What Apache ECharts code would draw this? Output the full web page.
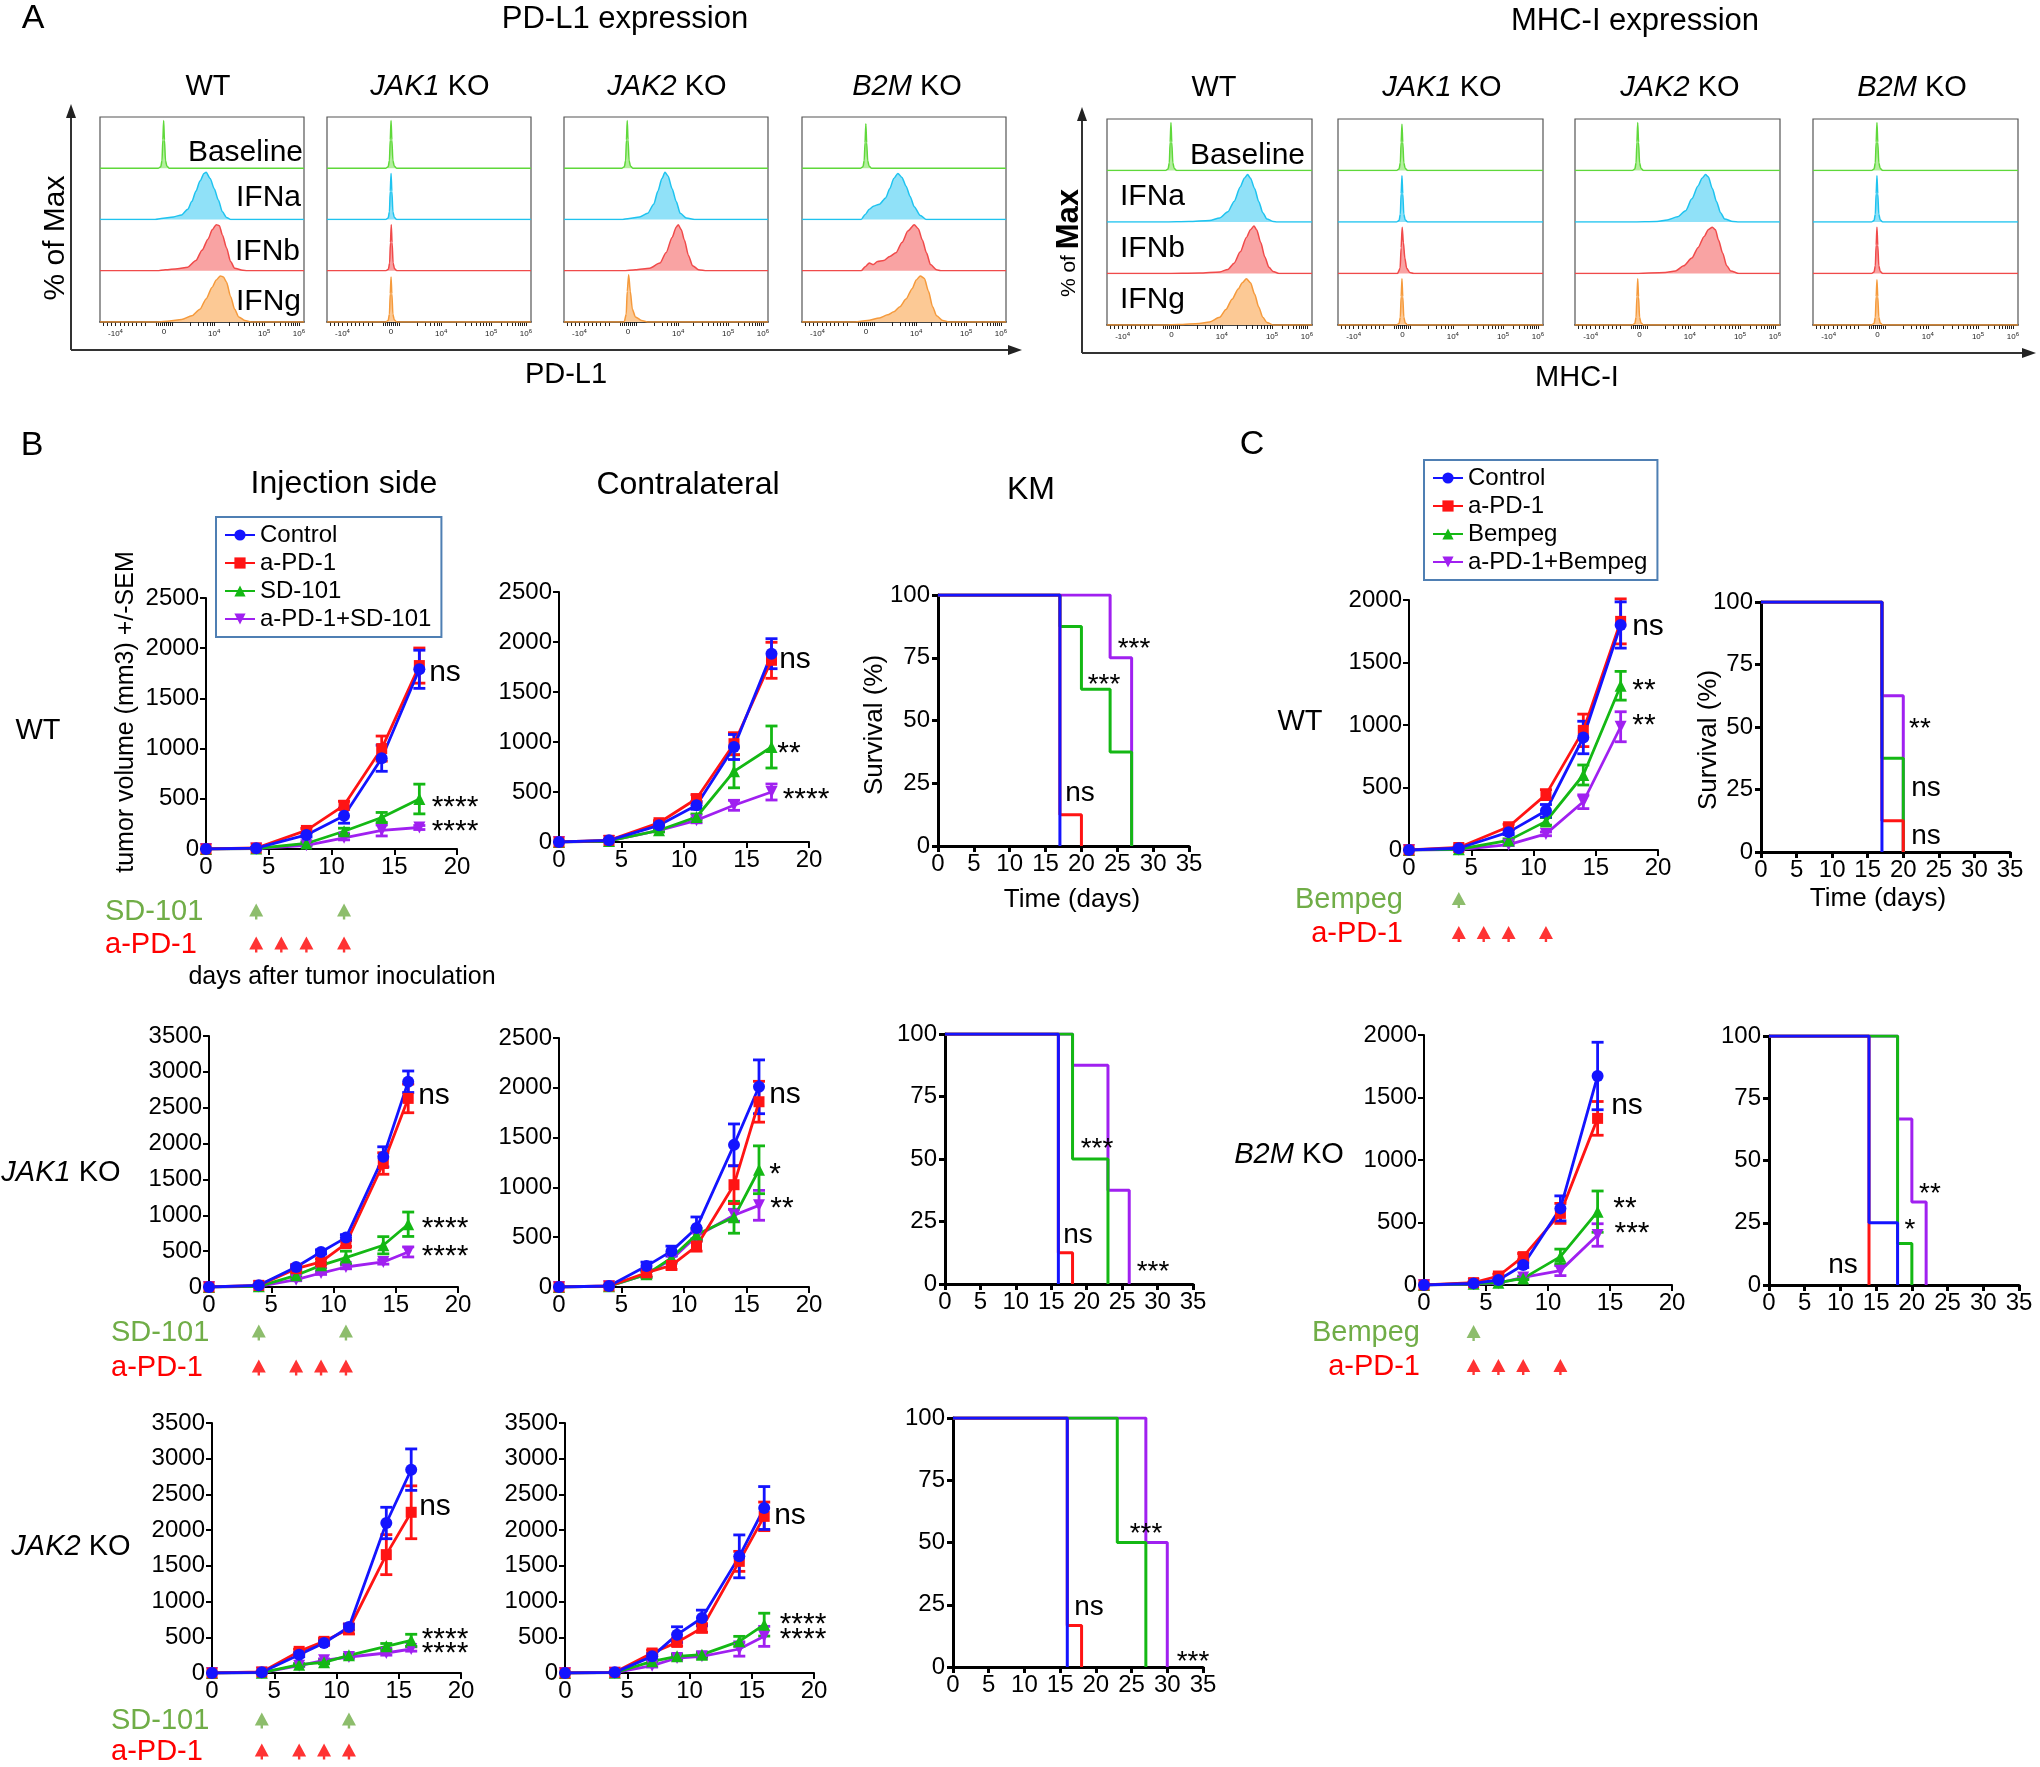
<!DOCTYPE html>
<html><head><meta charset="utf-8">
<script src="https://cdn.jsdelivr.net/npm/echarts@6/dist/echarts.min.js"></script>
<style>html,body{margin:0;padding:0;background:#fff}#c{width:2040px;height:1767px}</style>
</head><body><div id="c"></div>
<script>
// ======================= DATA =======================
// Panel A: flow histograms, x in display units (0..100 across the box), y = fraction of row height
const HIST_ROWS = ['Baseline', 'IFNa', 'IFNb', 'IFNg'];
const GENOTYPES = ['WT', 'JAK1 KO', 'JAK2 KO', 'B2M KO'];
const HIST_TICK_POS = [7.6, 31.4, 56, 80.5, 97.5];
const HIST_TICK_TXT = ['-10{s|4}', '0', '10{s|4}', '10{s|5}', '10{s|6}'];
const HIST_MINOR_TICKS = [1.5,3.5,5.5,7.6,10,12,14,16,18,20,22,27.5,28.5,29.5,30.5,31.4,32.3,33.3,34.3,35.3,44,48,50.5,52.5,54,55,56,63.4,67.7,70.8,73.1,75,76.7,78.1,79.4,80.5,85.6,88.6,90.7,92.4,93.7,94.9,95.9,96.7,97.5];

const PDL1_WT_BASE = [[28.5,0],[29.8,0.03],[30.4,0.15],[30.8,0.55],[31.2,0.93],[31.6,0.55],[32.1,0.15],[32.8,0.04],[34,0]];
const PDL1_WT_IFNA = [[27,0],[30,0.02],[36,0.05],[40,0.09],[43,0.2],[45,0.35],[47,0.55],[49,0.75],[51,0.9],[52,0.92],[54,0.8],[56,0.6],[58,0.38],[60,0.15],[62,0.04],[64,0]];
const PDL1_WT_IFNB = [[28,0],[32,0.02],[38,0.04],[43,0.07],[47,0.2],[50,0.4],[53,0.62],[55,0.8],[57,0.9],[58.5,0.88],[60,0.7],[62,0.45],[64,0.18],[66,0.05],[70,0.01],[72,0]];
const PDL1_WT_IFNG = [[28,0],[34,0.02],[40,0.05],[45,0.12],[49,0.25],[52,0.45],[55,0.68],[57,0.82],[59,0.9],[60.5,0.88],[62,0.78],[64,0.5],[66,0.25],[68,0.1],[71,0.03],[74,0]];
const PDL1_JAK1_BASE = [[28.7,0],[30,0.03],[30.6,0.15],[31,0.55],[31.4,0.93],[31.8,0.55],[32.3,0.15],[33,0.04],[34.2,0]];
const PDL1_JAK1_IFNA = [[28.7,0],[30,0.03],[30.6,0.15],[31,0.55],[31.4,0.9],[31.8,0.55],[32.3,0.15],[33,0.04],[34.2,0]];
const PDL1_JAK1_IFNB = [[28.8,0],[30.1,0.03],[30.7,0.15],[31.1,0.55],[31.5,0.9],[31.9,0.55],[32.4,0.15],[33.1,0.04],[34.3,0]];
const PDL1_JAK1_IFNG = [[28.7,0],[30,0.03],[30.6,0.15],[31,0.55],[31.4,0.88],[31.8,0.55],[32.3,0.15],[33,0.04],[34.2,0]];
const PDL1_JAK2_BASE = [[28.3,0],[29.6,0.03],[30.2,0.15],[30.6,0.55],[31,0.93],[31.4,0.55],[31.9,0.15],[32.6,0.04],[33.8,0]];
const PDL1_JAK2_IFNA = [[28,0],[32,0.02],[37,0.05],[41,0.12],[44,0.3],[46,0.55],[48,0.8],[49.5,0.92],[51,0.85],[53,0.6],[55,0.35],[57,0.12],[60,0.03],[64,0]];
const PDL1_JAK2_IFNB = [[29,0],[35,0.02],[42,0.05],[47,0.15],[50,0.35],[53,0.65],[55,0.85],[56,0.9],[57.5,0.8],[59,0.6],[61,0.3],[63,0.1],[66,0.02],[70,0]];
const PDL1_JAK2_IFNG = [[29.5,0],[30.5,0.15],[31,0.6],[31.7,0.92],[32.5,0.6],[33.5,0.25],[35,0.1],[38,0.03],[41,0]];
const PDL1_B2M_BASE = [[28.6,0],[29.9,0.03],[30.5,0.15],[30.9,0.5],[31.3,0.87],[31.7,0.5],[32.2,0.15],[32.9,0.04],[34.1,0]];
const PDL1_B2M_IFNA = [[29,0],[31,0.1],[33,0.2],[35,0.26],[38,0.3],[41,0.42],[43,0.6],[45,0.8],[47,0.9],[49,0.82],[51,0.65],[53,0.45],[55,0.25],[58,0.08],[61,0]];
const PDL1_B2M_IFNB = [[29,0],[31,0.08],[33,0.15],[35,0.12],[37,0.18],[40,0.2],[43,0.28],[46,0.35],[49,0.55],[52,0.78],[55,0.9],[57,0.82],[59,0.6],[61,0.35],[63,0.12],[66,0.02],[68,0]];
const PDL1_B2M_IFNG = [[26,0],[32,0.03],[38,0.08],[42,0.14],[45,0.2],[48,0.3],[51,0.45],[54,0.65],[56,0.82],[58,0.9],[60,0.85],[62,0.6],[64,0.3],[66,0.12],[69,0.03],[72,0]];

const MHC_WT_BASE = [[28.5,0],[29.8,0.03],[30.4,0.15],[30.8,0.55],[31.2,0.93],[31.6,0.55],[32.1,0.15],[32.8,0.04],[34,0]];
const MHC_WT_IFNA = [[28,0],[40,0.01],[50,0.03],[55,0.08],[59,0.2],[62,0.4],[65,0.68],[67,0.85],[68.6,0.92],[70,0.85],[72,0.65],[74,0.4],[76,0.18],[78,0.06],[81,0.01],[83,0]];
const MHC_WT_IFNB = [[28,0],[45,0.01],[55,0.03],[59,0.08],[62,0.2],[65,0.42],[68,0.7],[70,0.85],[71.7,0.92],[73,0.85],[75,0.6],[77,0.32],[79,0.12],[81,0.04],[84,0]];
const MHC_WT_IFNG = [[28,0],[35,0.01],[45,0.03],[50,0.06],[55,0.15],[58,0.3],[61,0.5],[64,0.7],[66,0.82],[68,0.9],[70,0.82],[72,0.6],[74,0.35],[76,0.15],[78,0.05],[81,0]];
const MHC_JAK1_BASE = [[28.5,0],[29.8,0.03],[30.4,0.15],[30.8,0.55],[31.2,0.9],[31.6,0.55],[32.1,0.15],[32.8,0.04],[34,0]];
const MHC_JAK1_IFNA = [[28.5,0],[29.8,0.03],[30.4,0.15],[30.8,0.55],[31.2,0.9],[31.6,0.55],[32.1,0.15],[32.8,0.04],[34,0]];
const MHC_JAK1_IFNB = [[29,0],[30.3,0.1],[30.8,0.5],[31.3,0.9],[31.9,0.6],[32.6,0.3],[33.5,0.1],[35,0.02],[37,0]];
const MHC_JAK1_IFNG = [[28.5,0],[29.8,0.03],[30.4,0.15],[30.8,0.55],[31.2,0.9],[31.6,0.55],[32.1,0.15],[32.8,0.04],[34,0]];
const MHC_JAK2_BASE = [[27.9,0],[29.2,0.03],[29.8,0.15],[30.2,0.55],[30.6,0.93],[31,0.55],[31.5,0.15],[32.2,0.04],[33.4,0]];
const MHC_JAK2_IFNA = [[28,0],[40,0.01],[45,0.04],[50,0.1],[54,0.22],[57,0.45],[60,0.7],[62,0.85],[63.7,0.92],[65,0.88],[67,0.65],[69,0.4],[71,0.18],[73,0.06],[77,0.01],[80,0]];
const MHC_JAK2_IFNB = [[28,0],[44,0.02],[49,0.05],[53,0.15],[57,0.3],[60,0.5],[63,0.72],[65,0.85],[67,0.9],[68.5,0.85],[70,0.65],[72,0.4],[74,0.15],[76,0.05],[80,0]];
const MHC_JAK2_IFNG = [[27.9,0],[29.2,0.03],[29.8,0.15],[30.2,0.55],[30.6,0.9],[31,0.55],[31.5,0.15],[32.2,0.04],[33.4,0]];
const MHC_B2M_BASE = [[28.5,0],[29.8,0.03],[30.4,0.15],[30.8,0.55],[31.2,0.93],[31.6,0.55],[32.1,0.15],[32.8,0.04],[34,0]];
const MHC_B2M_IFNA = [[28.5,0],[29.8,0.03],[30.4,0.15],[30.8,0.55],[31.2,0.9],[31.6,0.55],[32.1,0.15],[32.8,0.04],[34,0]];
const MHC_B2M_IFNB = [[28.5,0],[29.8,0.03],[30.4,0.15],[30.8,0.55],[31.2,0.9],[31.6,0.55],[32.1,0.15],[32.8,0.04],[34,0]];
const MHC_B2M_IFNG = [[28.5,0],[29.8,0.03],[30.4,0.15],[30.8,0.55],[31.2,0.88],[31.6,0.55],[32.1,0.15],[32.8,0.04],[34,0]];

// Panels B & C: groups
const B_GROUPS = ['Control', 'a-PD-1', 'SD-101', 'a-PD-1+SD-101'];
const C_GROUPS = ['Control', 'a-PD-1', 'Bempeg', 'a-PD-1+Bempeg'];

// B, WT, injection side
const B_WT_INJ_DAYS = [0,4,8,11,14,17];
const B_WT_INJ_CTRL = [0,8,140,332,904,1790];      const B_WT_INJ_CTRL_SEM = [0,5,20,75,130,190];
const B_WT_INJ_APD1 = [0,10,185,435,1000,1827];    const B_WT_INJ_APD1_SEM = [0,5,20,40,125,175];
const B_WT_INJ_SD   = [0,5,55,177,314,498];        const B_WT_INJ_SD_SEM   = [0,3,15,30,50,148];
const B_WT_INJ_COMB = [0,4,37,111,185,214];        const B_WT_INJ_COMB_SEM = [0,2,10,20,55,20];
// B, WT, contralateral
const B_WT_CON_DAYS = [0,4,8,11,14,17];
const B_WT_CON_CTRL = [0,17,167,367,950,1883];     const B_WT_CON_CTRL_SEM = [0,5,20,40,125,150];
const B_WT_CON_APD1 = [0,17,193,433,983,1817];     const B_WT_CON_APD1_SEM = [0,5,20,40,110,180];
const B_WT_CON_SD   = [0,10,117,250,707,950];      const B_WT_CON_SD_SEM   = [0,4,15,30,165,210];
const B_WT_CON_COMB = [0,10,117,217,367,500];      const B_WT_CON_COMB_SEM = [0,4,15,25,50,80];
// B, JAK1 KO
const B_J1_INJ_DAYS = [0,4,7,9,11,14,16];
const B_J1_INJ_CTRL = [0,23,279,489,689,1815,2862]; const B_J1_INJ_CTRL_SEM = [0,10,30,30,40,140,150];
const B_J1_INJ_APD1 = [0,23,256,349,605,1722,2630]; const B_J1_INJ_APD1_SEM = [0,10,30,40,40,150,200];
const B_J1_INJ_SD   = [0,10,163,302,410,582,875];   const B_J1_INJ_SD_SEM   = [0,5,20,40,90,120,170];
const B_J1_INJ_COMB = [0,8,102,195,279,349,489];    const B_J1_INJ_COMB_SEM = [0,4,15,20,25,30,70];
const B_J1_CON_DAYS = [0,4,7,9,11,14,16];
const B_J1_CON_CTRL = [0,10,210,360,593,1427,2010]; const B_J1_CON_CTRL_SEM = [0,5,40,50,110,210,270];
const B_J1_CON_APD1 = [0,10,143,217,410,1027,1860]; const B_J1_CON_APD1_SEM = [0,5,30,40,50,190,205];
const B_J1_CON_SD   = [0,8,127,293,527,700,1177];   const B_J1_CON_SD_SEM   = [0,4,30,40,60,160,240];
const B_J1_CON_COMB = [0,8,127,277,510,720,820];    const B_J1_CON_COMB_SEM = [0,4,30,40,50,60,150];
// B, JAK2 KO
const B_J2_INJ_DAYS = [0,4,7,9,11,14,16];
const B_J2_INJ_CTRL = [0,9,257,420,644,2100,2847];  const B_J2_INJ_CTRL_SEM = [0,5,30,30,40,220,290];
const B_J2_INJ_APD1 = [0,15,303,443,616,1657,2250]; const B_J2_INJ_APD1_SEM = [0,5,30,40,70,280,370];
const B_J2_INJ_SD   = [0,5,117,149,247,373,457];    const B_J2_INJ_SD_SEM   = [0,3,15,20,20,40,85];
const B_J2_INJ_COMB = [0,5,103,177,224,280,336];    const B_J2_INJ_COMB_SEM = [0,3,15,20,20,30,30];
const B_J2_CON_DAYS = [0,4,7,9,11,14,16];
const B_J2_CON_CTRL = [0,9,233,537,770,1633,2310];  const B_J2_CON_CTRL_SEM = [0,5,40,110,110,300,300];
const B_J2_CON_APD1 = [0,9,280,429,630,1563,2193];  const B_J2_CON_APD1_SEM = [0,5,40,50,60,140,200];
const B_J2_CON_SD   = [0,5,163,233,257,443,677];    const B_J2_CON_SD_SEM   = [0,3,20,30,30,70,160];
const B_J2_CON_COMB = [0,5,103,210,233,336,513];    const B_J2_CON_COMB_SEM = [0,3,20,30,30,100,140];
// C, WT and B2M KO
const C_WT_DAYS = [0,4,8,11,14,17];
const C_WT_CTRL = [0,14,143,314,900,1800];   const C_WT_CTRL_SEM = [0,5,20,50,130,185];
const C_WT_APD1 = [0,20,186,443,957,1829];   const C_WT_APD1_SEM = [0,6,20,40,130,180];
const C_WT_BEMP = [0,6,77,229,600,1314];     const C_WT_BEMP_SEM = [0,3,12,30,80,115];
const C_WT_COMB = [0,3,43,129,386,986];      const C_WT_COMB_SEM = [0,2,8,15,55,120];
const C_B2M_DAYS = [0,4,6,8,11,14];
const C_B2M_CTRL = [0,13,40,160,613,1672];   const C_B2M_CTRL_SEM = [0,5,10,20,100,270];
const C_B2M_APD1 = [0,19,72,227,573,1333];   const C_B2M_APD1_SEM = [0,6,15,25,80,135];
const C_B2M_BEMP = [0,10,19,53,227,587];     const C_B2M_BEMP_SEM = [0,4,6,10,60,165];
const C_B2M_COMB = [0,8,15,61,115,400];      const C_B2M_COMB_SEM = [0,4,5,10,40,90];

// Kaplan-Meier: [day, survival % after the event]
const KM_B_WT_CTRL = [[0,100],[17,0]];
const KM_B_WT_APD1 = [[0,100],[17,12.5],[20,0]];
const KM_B_WT_SD   = [[0,100],[17,87.5],[20,62.5],[24,37.5],[27,0]];
const KM_B_WT_COMB = [[0,100],[24,75],[27,0]];
const KM_B_J1_CTRL = [[0,100],[16,0]];
const KM_B_J1_APD1 = [[0,100],[16,12.5],[18,0]];
const KM_B_J1_SD   = [[0,100],[18,50],[23,0]];
const KM_B_J1_COMB = [[0,100],[18,87.5],[23,37.5],[26,0]];
const KM_B_J2_CTRL = [[0,100],[16,0]];
const KM_B_J2_APD1 = [[0,100],[16,16.7],[18,0]];
const KM_B_J2_SD   = [[0,100],[23,50],[27,0]];
const KM_B_J2_COMB = [[0,100],[27,50],[30,0]];
const KM_C_WT_CTRL = [[0,100],[17,0]];
const KM_C_WT_APD1 = [[0,100],[17,12.5],[20,0]];
const KM_C_WT_BEMP = [[0,100],[17,37.5],[20,0]];
const KM_C_WT_COMB = [[0,100],[17,62.5],[20,0]];
const KM_C_B2M_CTRL = [[0,100],[14,25],[18,0]];
const KM_C_B2M_APD1 = [[0,100],[14,0]];
const KM_C_B2M_BEMP = [[0,100],[18,16.7],[20,0]];
const KM_C_B2M_COMB = [[0,100],[18,66.7],[20,33.3],[22,0]];

// Treatment schedules (days)
const SCHED_B_LABELS = ['SD-101', 'a-PD-1'];
const SCHED_C_LABELS = ['Bempeg', 'a-PD-1'];
const SD101_DAYS = [4, 11];
const APD1_DAYS_WT = [4, 6, 8, 11];
const APD1_DAYS_KO = [4, 7, 9, 11];
const BEMPEG_DAYS = [4];
const APD1_DAYS_C = [4, 6, 8, 11];

// ======================= BUILD =======================
const FONT = 'Liberation Sans, Arial, Helvetica, sans-serif';
const option = {animation:false, backgroundColor:'#fff', grid:[], xAxis:[], yAxis:[], series:[], legend:[], graphic:[]};

function addGrid(rect, xa, ya, extra) {
  const i = option.grid.length;
  option.grid.push(Object.assign({left:rect[0], top:rect[1], width:rect[2], height:rect[3]}, extra || {}));
  option.xAxis.push(Object.assign({gridIndex:i}, xa));
  option.yAxis.push(Object.assign({gridIndex:i}, ya));
  return i;
}
function valAxis(min, max, interval, o) {
  o = o || {};
  const lw = o.lw || 2;
  return {type:'value', min, max, interval,
    axisLine:{show:true, onZero:false, lineStyle:{color:'#000', width:lw}},
    axisTick:{show:true, length:6, lineStyle:{color:'#000', width:lw}},
    axisLabel:{fontSize:o.fs || 24, color:'#000', fontFamily:FONT, margin:o.margin || 7, formatter:v => String(v)},
    splitLine:{show:false}};
}

// ---------- Panel A histograms ----------
const HC = [{line:'#5fd83a', fill:'#b4ef9e'}, {line:'#1fc3ef', fill:'#90e1f8'}, {line:'#f04a4a', fill:'#f9a3a3'}, {line:'#f59a3c', fill:'#fcc995'}];
function histBox(rect, curves) {
  const [l, t, w, h] = rect; const rh = h / 4;
  curves.forEach((pts, i) => {
    const g = addGrid([l, t + i * rh, w, rh], {type:'value', min:0, max:100, show:false}, {type:'value', min:0, max:1, show:false});
    option.series.push({type:'line', xAxisIndex:g, yAxisIndex:g, data:[[0,0]].concat(pts, [[100,0]]),
      symbol:'none', smooth:0.25, smoothMonotone:'x', silent:true,
      lineStyle:{color:HC[i].line, width:1.5}, areaStyle:{color:HC[i].fill, opacity:1}});
  });
  addGrid(rect,
    {type:'value', min:0, max:100,
      axisLine:{show:true, onZero:false, lineStyle:{color:'#222', width:1.5}},
      axisTick:{show:true, customValues:HIST_MINOR_TICKS, length:4, lineStyle:{color:'#222', width:1}},
      axisLabel:{show:true, customValues:HIST_TICK_POS, fontSize:8, color:'#222', fontFamily:FONT, margin:6,
        formatter:v => { const k = HIST_TICK_POS.indexOf(v); return k >= 0 ? HIST_TICK_TXT[k] : ''; },
        rich:{s:{fontSize:6, fontFamily:FONT, color:'#222', padding:[0,0,6,0]}}},
      splitLine:{show:false}},
    {type:'value', min:0, max:1, show:false},
    {show:true, borderColor:'#555', borderWidth:1.2});
}
const PDL1_LEFTS = [100, 327, 564, 802];
const MHC_LEFTS = [1107, 1338, 1575, 1813];
const PDL1_SETS = [
  [PDL1_WT_BASE, PDL1_WT_IFNA, PDL1_WT_IFNB, PDL1_WT_IFNG],
  [PDL1_JAK1_BASE, PDL1_JAK1_IFNA, PDL1_JAK1_IFNB, PDL1_JAK1_IFNG],
  [PDL1_JAK2_BASE, PDL1_JAK2_IFNA, PDL1_JAK2_IFNB, PDL1_JAK2_IFNG],
  [PDL1_B2M_BASE, PDL1_B2M_IFNA, PDL1_B2M_IFNB, PDL1_B2M_IFNG]];
const MHC_SETS = [
  [MHC_WT_BASE, MHC_WT_IFNA, MHC_WT_IFNB, MHC_WT_IFNG],
  [MHC_JAK1_BASE, MHC_JAK1_IFNA, MHC_JAK1_IFNB, MHC_JAK1_IFNG],
  [MHC_JAK2_BASE, MHC_JAK2_IFNA, MHC_JAK2_IFNB, MHC_JAK2_IFNG],
  [MHC_B2M_BASE, MHC_B2M_IFNA, MHC_B2M_IFNB, MHC_B2M_IFNG]];
PDL1_SETS.forEach((s, i) => histBox([PDL1_LEFTS[i], 117, 204, 205], s));
MHC_SETS.forEach((s, i) => histBox([MHC_LEFTS[i], 119, 205, 206], s));

// ---------- Growth curves ----------
const STY = [
  {color:'#1414ff', symbol:'circle', rot:0, size:12},
  {color:'#ff1414', symbol:'rect', rot:0, size:11},
  {color:'#14b814', symbol:'triangle', rot:0, size:12},
  {color:'#a020f0', symbol:'triangle', rot:180, size:12}];
const DRAW_ORDER = [3, 2, 1, 0];
function errRender(color) {
  return function (params, api) {
    const x = api.value(0), y = api.value(1), e = api.value(2);
    if (!e) return null;
    const t = api.coord([x, y + e]), b = api.coord([x, y - e]);
    const hw = 6, st = {stroke:color, lineWidth:2.8};
    return {type:'group', children:[
      {type:'line', shape:{x1:t[0], y1:t[1], x2:b[0], y2:b[1]}, style:st},
      {type:'line', shape:{x1:t[0]-hw, y1:t[1], x2:t[0]+hw, y2:t[1]}, style:st},
      {type:'line', shape:{x1:b[0]-hw, y1:b[1], x2:b[0]+hw, y2:b[1]}, style:st}]};
  };
}
function growth(rect, ymax, days, names, vals, sems) {
  const g = addGrid(rect, valAxis(0, 20, 5, {margin:6}), valAxis(0, ymax, 500, {margin:7}));
  DRAW_ORDER.forEach(k => {
    const s = STY[k];
    option.series.push({type:'custom', name:'err ' + names[k], xAxisIndex:g, yAxisIndex:g, silent:true, z:3,
      encode:{x:0, y:1}, data:days.map((d, i) => [d, vals[k][i], sems[k][i]]), renderItem:errRender(s.color)});
    option.series.push({type:'line', name:names[k], xAxisIndex:g, yAxisIndex:g, z:3,
      data:days.map((d, i) => [d, vals[k][i]]), symbol:s.symbol, symbolRotate:s.rot, symbolSize:s.size,
      itemStyle:{color:s.color}, lineStyle:{color:s.color, width:2.8}});
  });
}
function km(rect, curves) {
  const g = addGrid(rect, valAxis(0, 35, 5, {lw:3, margin:6}), valAxis(0, 100, 25, {lw:3, margin:8}));
  DRAW_ORDER.forEach(k => {
    option.series.push({type:'line', name:'KM ' + k, xAxisIndex:g, yAxisIndex:g, step:'end', z:3,
      data:curves[k], symbol:'none', lineStyle:{color:STY[k].color, width:3}, itemStyle:{color:STY[k].color}});
  });
}
const GREEN_T = '#70ad47', RED_T = '#ff0000';
const ARROW = 'path://M7,0 L14,13 L8.2,13 L8.2,16 L5.8,16 L5.8,13 L0,13 Z';
function schedule(rect, labels, rows, align, margin) {
  const colors = [GREEN_T, RED_T];
  const g = addGrid(rect, {type:'value', min:0, max:20, show:false},
    {type:'category', data:labels, inverse:true, axisLine:{show:false}, axisTick:{show:false}, splitLine:{show:false},
      axisLabel:{interval:0, align, margin, fontSize:29, fontFamily:FONT, color:(v, i) => colors[i]}});
  rows.forEach((days, i) => option.series.push({type:'scatter', xAxisIndex:g, yAxisIndex:g, silent:true,
    data:days.map(d => [d, labels[i]]), symbol:ARROW, symbolSize:[14,16], itemStyle:{color:colors[i]}}));
}

// Row 1
growth([206, 598, 251, 251], 2500, B_WT_INJ_DAYS, B_GROUPS,
  [B_WT_INJ_CTRL, B_WT_INJ_APD1, B_WT_INJ_SD, B_WT_INJ_COMB], [B_WT_INJ_CTRL_SEM, B_WT_INJ_APD1_SEM, B_WT_INJ_SD_SEM, B_WT_INJ_COMB_SEM]);
growth([559, 592, 250, 250], 2500, B_WT_CON_DAYS, B_GROUPS,
  [B_WT_CON_CTRL, B_WT_CON_APD1, B_WT_CON_SD, B_WT_CON_COMB], [B_WT_CON_CTRL_SEM, B_WT_CON_APD1_SEM, B_WT_CON_SD_SEM, B_WT_CON_COMB_SEM]);
km([938, 595, 251, 251], [KM_B_WT_CTRL, KM_B_WT_APD1, KM_B_WT_SD, KM_B_WT_COMB]);
growth([1409, 600, 249, 250], 2000, C_WT_DAYS, C_GROUPS,
  [C_WT_CTRL, C_WT_APD1, C_WT_BEMP, C_WT_COMB], [C_WT_CTRL_SEM, C_WT_APD1_SEM, C_WT_BEMP_SEM, C_WT_COMB_SEM]);
km([1761, 602, 249, 250], [KM_C_WT_CTRL, KM_C_WT_APD1, KM_C_WT_BEMP, KM_C_WT_COMB]);
// Row 2
growth([209, 1036, 249, 251], 3500, B_J1_INJ_DAYS, B_GROUPS,
  [B_J1_INJ_CTRL, B_J1_INJ_APD1, B_J1_INJ_SD, B_J1_INJ_COMB], [B_J1_INJ_CTRL_SEM, B_J1_INJ_APD1_SEM, B_J1_INJ_SD_SEM, B_J1_INJ_COMB_SEM]);
growth([559, 1038, 250, 249], 2500, B_J1_CON_DAYS, B_GROUPS,
  [B_J1_CON_CTRL, B_J1_CON_APD1, B_J1_CON_SD, B_J1_CON_COMB], [B_J1_CON_CTRL_SEM, B_J1_CON_APD1_SEM, B_J1_CON_SD_SEM, B_J1_CON_COMB_SEM]);
km([945, 1034, 248, 250], [KM_B_J1_CTRL, KM_B_J1_APD1, KM_B_J1_SD, KM_B_J1_COMB]);
growth([1424, 1035, 248, 250], 2000, C_B2M_DAYS, C_GROUPS,
  [C_B2M_CTRL, C_B2M_APD1, C_B2M_BEMP, C_B2M_COMB], [C_B2M_CTRL_SEM, C_B2M_APD1_SEM, C_B2M_BEMP_SEM, C_B2M_COMB_SEM]);
km([1769, 1036, 250, 249], [KM_C_B2M_CTRL, KM_C_B2M_APD1, KM_C_B2M_BEMP, KM_C_B2M_COMB]);
// Row 3
growth([212, 1423, 249, 250], 3500, B_J2_INJ_DAYS, B_GROUPS,
  [B_J2_INJ_CTRL, B_J2_INJ_APD1, B_J2_INJ_SD, B_J2_INJ_COMB], [B_J2_INJ_CTRL_SEM, B_J2_INJ_APD1_SEM, B_J2_INJ_SD_SEM, B_J2_INJ_COMB_SEM]);
growth([565, 1423, 249, 250], 3500, B_J2_CON_DAYS, B_GROUPS,
  [B_J2_CON_CTRL, B_J2_CON_APD1, B_J2_CON_SD, B_J2_CON_COMB], [B_J2_CON_CTRL_SEM, B_J2_CON_APD1_SEM, B_J2_CON_SD_SEM, B_J2_CON_COMB_SEM]);
km([953, 1418, 250, 249], [KM_B_J2_CTRL, KM_B_J2_APD1, KM_B_J2_SD, KM_B_J2_COMB]);

// Schedules
schedule([206, 895, 251, 66], SCHED_B_LABELS, [SD101_DAYS, APD1_DAYS_WT], 'left', 101);
schedule([209, 1315, 249, 70], SCHED_B_LABELS, [SD101_DAYS, APD1_DAYS_KO], 'left', 98);
schedule([212, 1705, 249, 66], SCHED_B_LABELS, [SD101_DAYS, APD1_DAYS_KO], 'left', 101);
schedule([1409, 883, 249, 68], SCHED_C_LABELS, [BEMPEG_DAYS, APD1_DAYS_C], 'right', 6);
schedule([1424, 1316, 248, 68], SCHED_C_LABELS, [BEMPEG_DAYS, APD1_DAYS_C], 'right', 4);

// Legends
function legend(left, top, names) {
  option.legend.push({orient:'vertical', left, top, data:names, selectedMode:false,
    borderColor:'#4f7fb3', borderWidth:2, padding:[6, 10, 6, 8], itemGap:4, itemWidth:30, itemHeight:14,
    textStyle:{fontSize:24, fontFamily:FONT, color:'#000'}});
}
legend(216, 517, B_GROUPS);
legend(1424, 460, C_GROUPS);

// ---------- Text ----------
function T(x, y, text, o) {
  o = o || {};
  const size = o.size || 29;
  option.graphic.push({type:'text', x, y, rotation:o.rot || 0, z:10, silent:true,
    style:{text, fontSize:size, fontFamily:FONT, fontStyle:o.italic ? 'italic' : 'normal', fontWeight:o.weight || 'normal',
      fill:o.color || '#000', align:o.align || 'center', verticalAlign:'middle',
      rich:o.rich || {i:{fontStyle:'italic', fontSize:size, fontFamily:FONT, fill:o.color || '#000'}}}});
}
function geno(s) { return s.endsWith(' KO') ? '{i|' + s.slice(0, -3) + '} KO' : s; }
function STAR(x, y, s, size) { T(x, y + 7, s, {size:size || 30}); }
function LINE(pts, w) { option.graphic.push({type:'polyline', z:10, silent:true, shape:{points:pts}, style:{stroke:'#333', lineWidth:w || 2, fill:null}}); }
function TRI(pts) { option.graphic.push({type:'polygon', z:10, silent:true, shape:{points:pts}, style:{fill:'#222'}}); }

// Panel A text
T(33, 19, 'A', {size:34});
T(625, 19, 'PD-L1 expression', {size:31});
T(1635, 21, 'MHC-I expression', {size:31});
[208, 430, 667, 907].forEach((x, i) => T(x, 87, geno(GENOTYPES[i])));
[1214, 1442, 1680, 1912].forEach((x, i) => T(x, 88, geno(GENOTYPES[i])));
T(303, 153, HIST_ROWS[0], {size:30, align:'right'});
T(301, 198, HIST_ROWS[1], {size:30, align:'right'});
T(300, 252, HIST_ROWS[2], {size:30, align:'right'});
T(301, 302, HIST_ROWS[3], {size:30, align:'right'});
T(1305, 156, HIST_ROWS[0], {size:30, align:'right'});
T(1120, 197, HIST_ROWS[1], {size:30, align:'left'});
T(1120, 249, HIST_ROWS[2], {size:30, align:'left'});
T(1120, 300, HIST_ROWS[3], {size:30, align:'left'});
T(56, 238, '% of Max', {size:30, rot:Math.PI/2});
T(1069, 243, '{a|% of }{b|Max}', {size:22, rot:Math.PI/2,
  rich:{a:{fontSize:21, fontFamily:FONT, fill:'#000'}, b:{fontSize:31, fontWeight:'bold', fontFamily:FONT, fill:'#000'}}});
T(566, 375, 'PD-L1', {size:29});
T(1577, 378, 'MHC-I', {size:29});
LINE([[71, 350], [71, 114]]); TRI([[71, 104], [66, 118], [76, 118]]);
LINE([[71, 350], [1010, 350]]); TRI([[1022, 350], [1008, 345], [1008, 355]]);
LINE([[1082, 353], [1082, 117]]); TRI([[1082, 107], [1077, 121], [1087, 121]]);
LINE([[1082, 353], [2024, 353]]); TRI([[2036, 353], [2022, 348], [2022, 358]]);

// Panel B/C text
T(32, 446, 'B', {size:34});
T(1252, 445, 'C', {size:34});
T(344, 484, 'Injection side', {size:32});
T(688, 485, 'Contralateral', {size:32});
T(1031, 490, 'KM', {size:32});
T(38, 731, 'WT', {size:29});
T(1300, 722, 'WT', {size:29});
T(61, 1173, geno('JAK1 KO'), {size:29});
T(71, 1547, geno('JAK2 KO'), {size:29});
T(1289, 1155, geno('B2M KO'), {size:29});
T(126, 712, 'tumor volume (mm3) +/-SEM', {size:25, rot:Math.PI/2});
T(342, 977, 'days after tumor inoculation', {size:25});
T(875, 725, 'Survival (%)', {size:26, rot:Math.PI/2});
T(1072, 900, 'Time (days)', {size:26});
T(1709, 740, 'Survival (%)', {size:26, rot:Math.PI/2});
T(1878, 899, 'Time (days)', {size:26});

// significance annotations
T(445, 673, 'ns', {size:30}); STAR(455, 801, '****'); STAR(455, 825, '****');
T(795, 660, 'ns', {size:30}); STAR(789, 747, '**'); STAR(806, 793, '****');
STAR(1134, 642, '***', 28); STAR(1104, 678, '***', 28); T(1080, 793, 'ns', {size:28});
T(1648, 627, 'ns', {size:30}); STAR(1644, 684, '**'); STAR(1644, 719, '**');
STAR(1920, 722, '**', 28); T(1926, 788, 'ns', {size:28}); T(1926, 836, 'ns', {size:28});
T(434, 1096, 'ns', {size:30}); STAR(445, 1222, '****'); STAR(445, 1250, '****');
T(785, 1095, 'ns', {size:30}); STAR(775, 1168, '*'); STAR(782, 1202, '**');
STAR(1097, 1142, '***', 28); T(1078, 1235, 'ns', {size:28}); STAR(1153, 1265, '***', 28);
T(1627, 1106, 'ns', {size:30}); STAR(1625, 1202, '**'); STAR(1632, 1227, '***');
STAR(1930, 1187, '**', 28); STAR(1910, 1223, '*', 28); T(1843, 1265, 'ns', {size:28});
T(435, 1507, 'ns', {size:30}); STAR(445, 1633, '****'); STAR(445, 1647, '****');
T(790, 1516, 'ns', {size:30}); STAR(803, 1618, '****'); STAR(803, 1633, '****');
STAR(1146, 1527, '***', 28); T(1089, 1607, 'ns', {size:28}); STAR(1193, 1655, '***', 28);

const chart = echarts.init(document.getElementById('c'), null, {renderer:'canvas'});
chart.setOption(option);
</script></body></html>
